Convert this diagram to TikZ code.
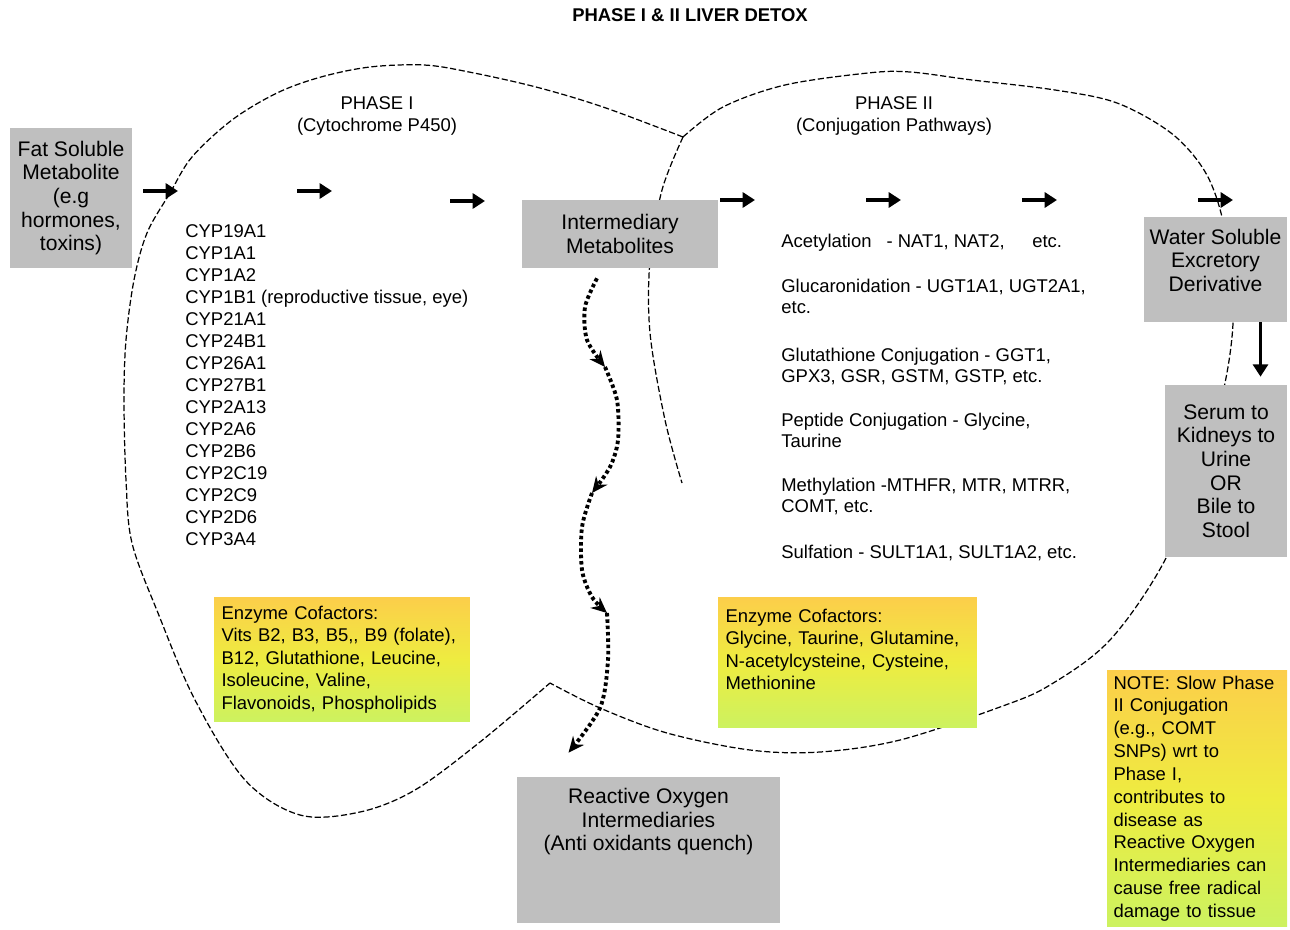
\documentclass[tikz,border=0pt]{standalone}
\usepackage{fontspec}
\setmainfont{Liberation Sans}
\usetikzlibrary{arrows.meta}

\definecolor{boxgray}{RGB}{191,191,191}
\definecolor{cofTop}{RGB}{252,206,74}
\definecolor{cofMid}{RGB}{238,236,64}
\definecolor{cofBottom}{RGB}{204,242,96}

\begin{document}
\begin{tikzpicture}[x=0.02cm,y=-0.02cm,
    every node/.style={font=\fontsize{10.5}{12.6}\selectfont},
    graybox/.style={fill=boxgray,align=center,inner sep=0pt,font=\fontsize{12}{13.4}\selectfont},
    cofbox/.style={top color=cofTop,bottom color=cofBottom,middle color=cofMid,align=left,
        inner xsep=0.15cm,inner ysep=0pt,font=\fontsize{10.5}{12.8}\selectfont},
    flow/.style={line width=1.8pt,-{Triangle[length=7pt,width=8.5pt]}},
    rosflow/.style={line width=2.2pt,dash pattern=on 2pt off 1.6pt,-{Stealth[length=9pt,width=8pt]}},
    lobe/.style={line width=0.7pt,dash pattern=on 3.5pt off 1.5pt}]
\useasboundingbox (0,0) rectangle (1290,929);

% liver outline
\draw[lobe] plot[smooth,tension=0.55] coordinates {(683,137) (603,107) (536,87) (469,72) (424,65)
    (370,67) (321,77) (277,93) (232,120) (192,157) (170,193) (147,233) (134,280) (126,340)
    (124,400) (126,480) (132,543) (158,613) (195,700) (245,780) (300,815) (360,812) (415,790)
    (480,742) (550,683)};
\draw[lobe] plot[smooth,tension=0.55] coordinates {(683,137) (723,107) (785,85) (868,73) (910,72)
    (972,80) (1055,90) (1117,103) (1171,133) (1204,170) (1221,213) (1230,270) (1233,323)
    (1225,383) (1205,460) (1165,560) (1110,640) (1050,685) (1000,707) (900,740) (820,752)
    (750,750) (667,733) (600,708) (550,683)};
\draw[lobe] plot[smooth,tension=0.55] coordinates {(683,137) (662,190) (650,260) (650,333)
    (665,420) (682,483)};

\node[font=\bfseries\fontsize{10.5}{12.6}\selectfont] (title) at (690,15) {PHASE I \& II LIVER DETOX};

\node[align=center] (phaseI) at (377,116) {PHASE I\\(Cytochrome P450)};
\node[align=center] (phaseII) at (894,116) {PHASE II\\(Conjugation Pathways)};

\node[graybox,minimum width=2.46cm,minimum height=2.8cm] (fat) at (71,198)
    {Fat Soluble\\Metabolite\\(e.g\\hormones,\\toxins)};
\node[graybox,minimum width=3.92cm,minimum height=1.36cm] (inter) at (620,234)
    {Intermediary\\Metabolites};
\node[graybox,minimum width=2.86cm,minimum height=2.1cm] (water) at (1215.5,269.5)
    {Water Soluble\\Excretory\\Derivative\\[-2.6pt]\mbox{}};
\node[graybox,minimum width=2.44cm,minimum height=3.44cm] (serum) at (1226,471)
    {Serum to\\Kidneys to\\Urine\\OR\\Bile to\\Stool};
\node[graybox,minimum width=5.26cm,minimum height=2.92cm] (reactive) at (648.5,850)
    {Reactive Oxygen\\Intermediaries\\(Anti oxidants quench)\\[21pt]\mbox{}};

\node[align=left,inner sep=0pt,anchor=north west,font=\fontsize{10.5}{12.55}\selectfont] (cyp) at (185,224)
    {CYP19A1\\CYP1A1\\CYP1A2\\CYP1B1 (reproductive tissue, eye)\\CYP21A1\\CYP24B1\\CYP26A1\\
     CYP27B1\\CYP2A13\\CYP2A6\\CYP2B6\\CYP2C19\\CYP2C9\\CYP2D6\\CYP3A4};

\node[align=left,inner sep=0pt,anchor=north west] (acet) at (781,234)
    {Acetylation\hspace{0.3cm}- NAT1, NAT2,\hspace{0.55cm}etc.};
\node[align=left,inner sep=0pt,anchor=north west,font=\fontsize{10.5}{12}\selectfont] (gluc) at (781,279)
    {Glucaronidation - UGT1A1, UGT2A1,\\etc.};
\node[align=left,inner sep=0pt,anchor=north west,font=\fontsize{10.5}{12}\selectfont] (glut) at (781,348)
    {Glutathione Conjugation - GGT1,\\GPX3, GSR, GSTM, GSTP, etc.};
\node[align=left,inner sep=0pt,anchor=north west,font=\fontsize{10.5}{12}\selectfont] (pept) at (781,413)
    {Peptide Conjugation - Glycine,\\Taurine};
\node[align=left,inner sep=0pt,anchor=north west,font=\fontsize{10.5}{12}\selectfont] (meth) at (781,478)
    {Methylation -MTHFR, MTR, MTRR,\\COMT, etc.};
\node[align=left,inner sep=0pt,anchor=north west] (sulf) at (781,545)
    {Sulfation - SULT1A1, SULT1A2, etc.};

\node[cofbox,text width=4.82cm,minimum height=2.5cm] (cofI) at (342,659.5)
    {Enzyme Cofactors:\\Vits B2, B3, B5,{}, B9 (folate),\\B12, Glutathione, Leucine,\\
     Isoleucine, Valine,\\Flavonoids, Phospholipids};
\node[cofbox,text width=4.88cm,minimum height=2.62cm] (cofII) at (847.5,662.5)
    {Enzyme Cofactors:\\Glycine, Taurine, Glutamine,\\N-acetylcysteine, Cysteine,\\
     Methionine\\[2pt]\mbox{}};
\node[cofbox,inner xsep=0.13cm,text width=3.34cm,minimum height=5.14cm,font=\fontsize{10.5}{13}\selectfont] (note) at (1197,798.5)
    {NOTE: Slow Phase\\II Conjugation\\(e.g., COMT\\SNPs) wrt to\\Phase I,\\contributes to\\
     disease as\\Reactive Oxygen\\Intermediaries can\\cause free radical\\damage to tissue};

% main flow arrows
\foreach \ax/\ay in {143/191, 297/191, 450/201, 720/200, 866/200, 1022/200, 1198/200}
    \draw[flow] (\ax,\ay) -- ++(35,0);
\draw[flow,shorten >=0.16cm] ([xshift=0.9cm]water.south) -- ([xshift=0.9cm]water.south |- serum.north);

% reactive oxygen path
\coordinate (rosA) at ([shift={(-23,10)}]inter.south);
\coordinate (rosB) at (605,367);
\coordinate (rosC) at (592,493);
\coordinate (rosD) at (607,613);
\coordinate (rosE) at ([shift={(-80,-24)}]reactive.north);
\draw[rosflow] plot[smooth] coordinates {(rosA) (585,307) (587,340) (rosB)};
\draw[rosflow] plot[smooth] coordinates {(rosB) (617,400) (618,440) (610,467) (rosC)};
\draw[rosflow] plot[smooth] coordinates {(rosC) (582,527) (582,570) (592,597) (rosD)};
\draw[rosflow] plot[smooth] coordinates {(rosD) (608,660) (600,708) (rosE)};

\end{tikzpicture}
\end{document}
